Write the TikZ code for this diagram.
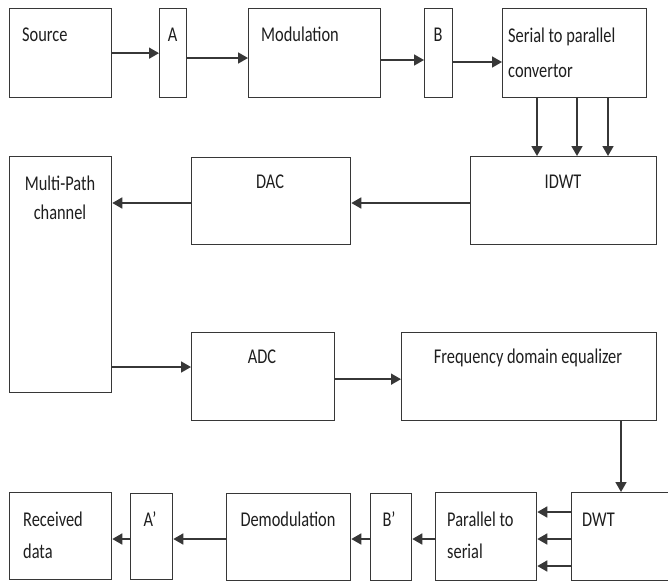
\documentclass[tikz,border=0pt]{standalone}
\usepackage{fontspec}
\setmainfont{Carlito}[FakeStretch=0.78]
\usetikzlibrary{arrows.meta, positioning}
\definecolor{lineg}{RGB}{55,55,55}
\definecolor{txtg}{RGB}{30,30,30}

\begin{document}
\begin{tikzpicture}[x=1pt, y=-1pt,
  box/.style={draw=lineg, line width=1.3pt, anchor=north west, inner sep=0pt},
  lbl/.style={text=txtg, font=\fontsize{21}{32}\selectfont, inner sep=0pt},
  arr/.style={-{Triangle[length=10pt, width=11pt]}, draw=lineg, line width=1.7pt}]
\useasboundingbox (0,0) rectangle (668,582);

% transmitter
\node[box, minimum width=102pt, minimum height=89pt] (src) at (9,8) {};
\node[box, minimum width=27pt, minimum height=89pt] (a) at (159,8) {};
\node[box, minimum width=132pt, minimum height=89pt] (mod) at (248,8) {};
\node[box, minimum width=28pt, minimum height=89pt] (b) at (424,8) {};
\node[box, minimum width=144pt, minimum height=89pt] (ser) at (502,8) {};
\node[box, minimum width=186pt, minimum height=88pt] (idwt) at (470,156) {};
\node[box, minimum width=159pt, minimum height=87pt] (dac) at (191,157) {};

% channel and receiver
\node[box, minimum width=102pt, minimum height=236pt] (mpc) at (9,156) {};
\node[box, minimum width=143pt, minimum height=88pt] (adc) at (191,332) {};
\node[box, minimum width=255pt, minimum height=88pt] (fde) at (401,332) {};
\node[box, minimum width=110pt, minimum height=88pt] (dwt) at (571,492) {};
\node[box, minimum width=101pt, minimum height=88pt] (p2s) at (435,492) {};
\node[box, minimum width=41pt, minimum height=87pt] (bp) at (370,493) {};
\node[box, minimum width=124pt, minimum height=87pt] (dem) at (226,493) {};
\node[box, minimum width=42pt, minimum height=86pt] (ap) at (130,493) {};
\node[box, minimum width=102pt, minimum height=87pt] (rec) at (9,492) {};

% texts (multi-line ones sit on their last baseline)
\node[lbl, anchor=base west] (srcT) at (22,41) {Source};
\node[lbl, anchor=base] (aT) at (172.5,41) {A};
\node[lbl, anchor=base west] (modT) at (261,41) {Modulation};
\node[lbl, anchor=base] (bT) at (438,41) {B};
\node[lbl, anchor=base west, align=left] (serT) at (508,77) {Serial to parallel\\[3pt]convertor};
\node[lbl, anchor=base] (dacT) at (270,188) {DAC};
\node[lbl, anchor=base] (idwtT) at (563,188) {IDWT};
\node[lbl, anchor=base, align=center] (mpcT) at (60,219) {Multi-Path\\[-3pt]channel};
\node[lbl, anchor=base] (adcT) at (262,363) {ADC};
\node[lbl, anchor=base] (fdeT) at (528,363) {Frequency domain equalizer};
\node[lbl, anchor=base west, align=left] (recT) at (23,558) {Received\\data};
\node[lbl, anchor=base] (apT) at (150,526) {A’};
\node[lbl, anchor=base] (demT) at (288,526) {Demodulation};
\node[lbl, anchor=base] (bpT) at (389,526) {B’};
\node[lbl, anchor=base west, align=left] (p2sT) at (447,558) {Parallel to\\serial};
\node[lbl, anchor=base west] (dwtT) at (582,526) {DWT};

% connectors
\coordinate (r1) at (0,58);
\coordinate (r2) at (0,203);
\coordinate (r3) at (0,367);
\coordinate (r4) at (0,539);
\draw[arr] (src.east) -- (a.west);
\draw[arr] (a.east |- r1) -- (mod.west |- r1);
\draw[arr] ([yshift=-2pt]mod.east |- r1) -- ([yshift=-2pt]b.west |- r1);
\draw[arr] ([yshift=-4pt]b.east |- r1) -- ([yshift=-4pt]ser.west |- r1);
\foreach \dx in {35,75,106}
  \draw[arr] ([xshift=\dx pt]ser.south west) -- ([xshift=\dx pt]ser.south west |- idwt.north);
\draw[arr] (idwt.west |- r2) -- (dac.east |- r2);
\draw[arr] (dac.west |- r2) -- (mpc.east |- r2);
\draw[arr] (mpc.east |- r3) -- (adc.west |- r3);
\draw[arr] ([yshift=-2.5pt]adc.east) -- ([yshift=-2.5pt]fde.west);
\coordinate (f1) at ([xshift=220pt]fde.south west);
\draw[arr] (f1) -- (f1 |- dwt.north);
\foreach \dy in {-27,0,27}
  \draw[arr] ([yshift=\dy pt]dwt.west |- r4) -- ([yshift=\dy pt]p2s.east |- r4);
\draw[arr] (p2s.west |- r4) -- (bp.east |- r4);
\draw[arr] (bp.west |- r4) -- (dem.east |- r4);
\draw[arr] (dem.west |- r4) -- (ap.east |- r4);
\draw[arr] (ap.west |- r4) -- (rec.east |- r4);
\end{tikzpicture}
\end{document}
